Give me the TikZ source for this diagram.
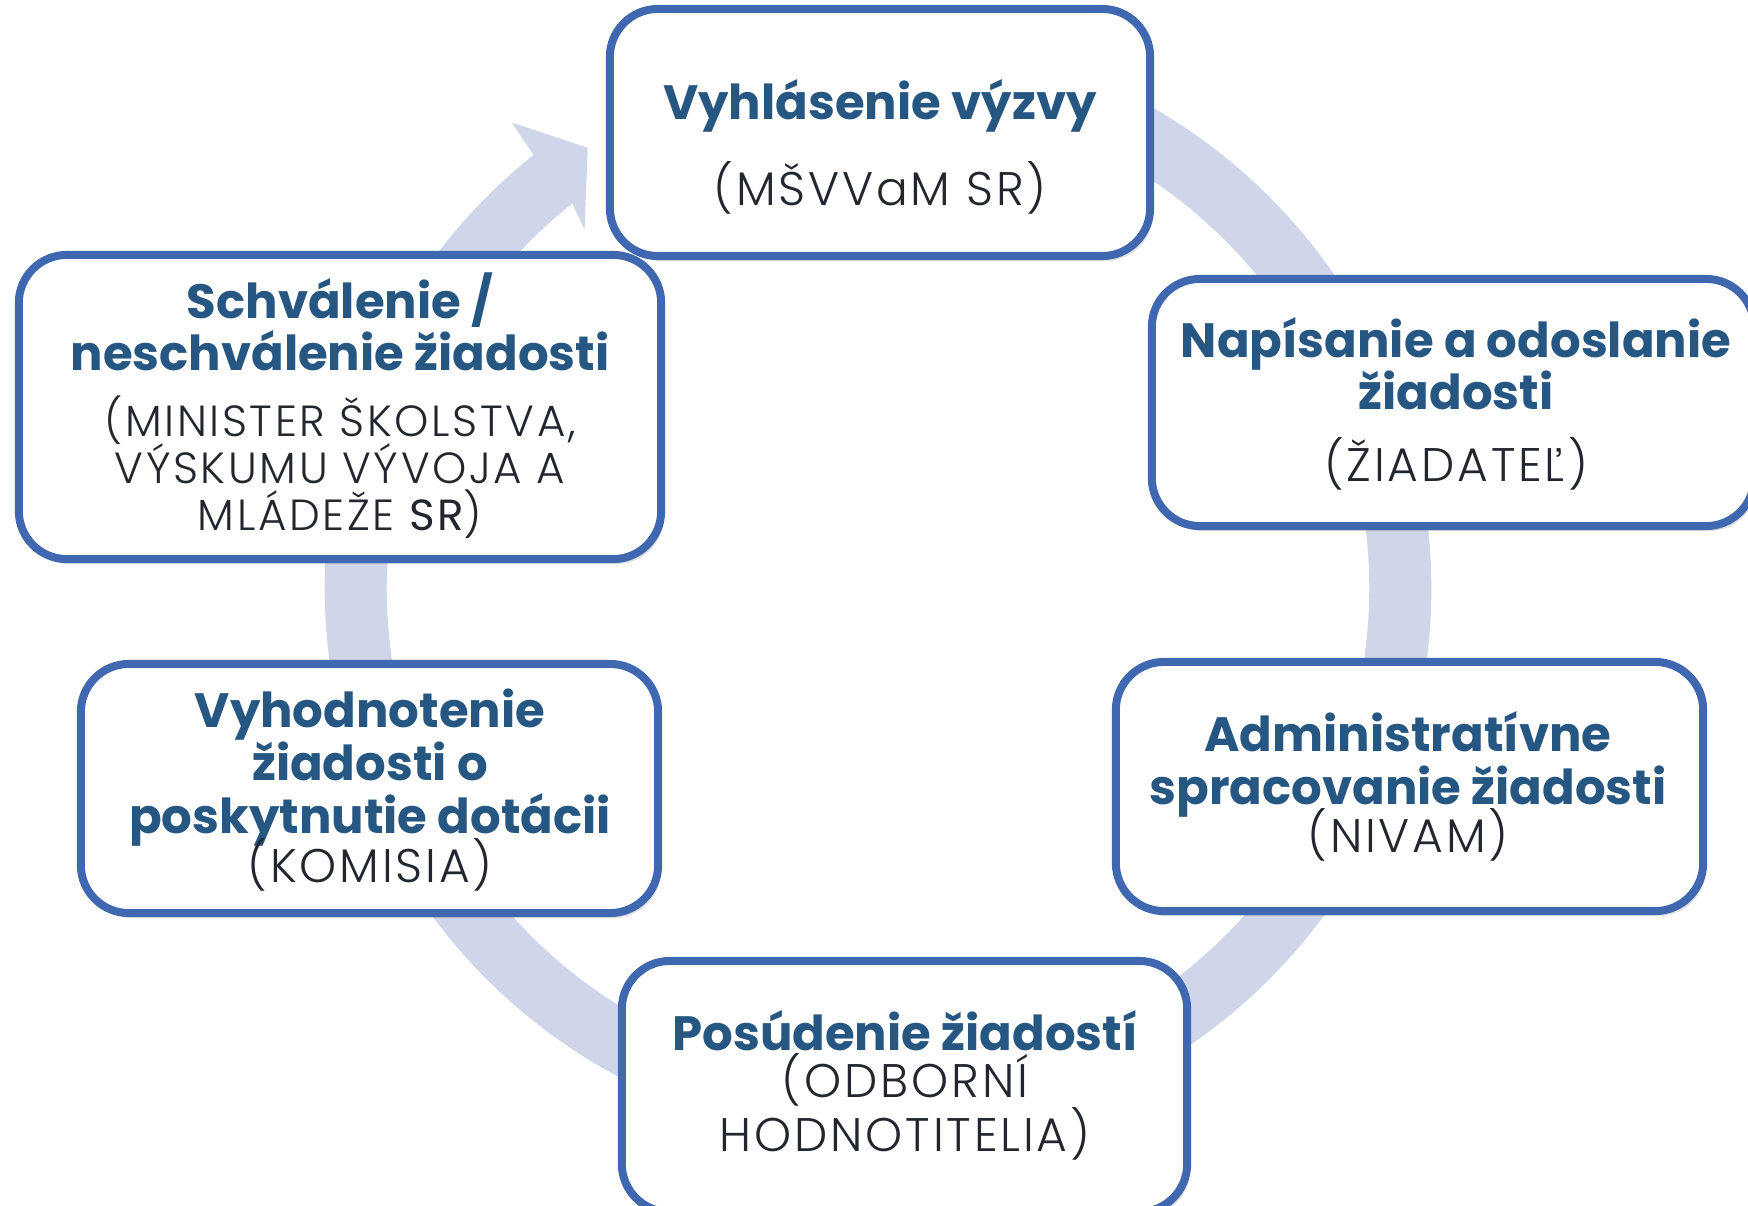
\documentclass[tikz,border=0pt]{standalone}
\usepackage{fontspec}
\setmainfont{Poppins}
\newfontfamily\lightfont{Poppins Light}[LetterSpace=6]
\newfontfamily\regfont{Poppins}[LetterSpace=6]
\usetikzlibrary{shadows}
\definecolor{ringc}{RGB}{207,214,234}
\definecolor{boxc}{RGB}{63,104,177}
\definecolor{ttlc}{RGB}{38,87,130}
\definecolor{txtc}{RGB}{35,38,46}
\tikzset{
 box/.style={draw=boxc, line width=0.08cm, fill=white, rounded corners=0.48cm,
   drop shadow={shadow xshift=0.03cm, shadow yshift=-0.05cm, opacity=0.25}},
 ttl/.style={anchor=base, inner sep=0pt, text=ttlc, font=\fontsize{13.7}{14}\selectfont\bfseries},
 bdy/.style={anchor=base, inner sep=0pt, text=txtc, font=\fontsize{13.4}{14}\selectfont\lightfont},
 bdysmall/.style={bdy, font=\fontsize{12.4}{13}\selectfont\lightfont},
}
\begin{document}
\begin{tikzpicture}[x=0.01cm, y=-0.01cm]
\useasboundingbox (0,0) rectangle (1748,1206);
\clip (0,0) rectangle (1748,1206);
\coordinate (C) at (878,588);
\fill[ringc] ([shift={(95:5.53cm)}]C) arc[start angle=95, end angle=-231.5, radius=5.53cm]
  -- ([shift={(128.2:5.92cm)}]C) -- ([shift={(123.4:5.27cm)}]C) -- ([shift={(129.3:4.63cm)}]C)
  -- ([shift={(128.5:4.91cm)}]C) arc[start angle=-231.5, end angle=95, radius=4.91cm] -- cycle;

\node[box, minimum width=5.40cm, minimum height=2.47cm] (b1) at (880,132.5) {};
\node[box, minimum width=6.02cm, minimum height=2.47cm] (b2) at (1453,402.5) {};
\node[box, minimum width=5.87cm, minimum height=2.49cm] (b3) at (1409.5,786.5) {};
\node[box, minimum width=5.65cm, minimum height=2.51cm] (b4) at (904.5,1086.5) {};
\node[box, minimum width=5.77cm, minimum height=2.49cm] (b5) at (369.5,788.5) {};
\node[box, minimum width=6.42cm, minimum height=3.04cm] (b6) at (340,407) {};

\node[ttl] (t1a) at (880,119) {Vyhlásenie výzvy};
\node[bdy] (t1b) at (880,205) {(MŠVVaM SR)};

\node[ttl] (t2a) at (1456,357) {Napísanie a odoslanie};
\node[ttl] (t2b) at (1456,409) {žiadosti};
\node[bdy] (t2c) at (1456,481) {(ŽIADATEĽ)};

\node[ttl] (t3a) at (1408,751) {Administratívne};
\node[ttl] (t3b) at (1408,804) {spracovanie žiadosti};
\node[bdy] (t3c) at (1408,852) {(NIVAM)};

\node[ttl] (t4a) at (905,1050) {Posúdenie žiadostí};
\node[bdy] (t4b) at (905,1097) {(ODBORNÍ};
\node[bdy] (t4c) at (905,1151) {HODNOTITELIA)};

\node[ttl] (t5a) at (370,727) {Vyhodnotenie};
\node[ttl] (t5b) at (370,780) {žiadosti o};
\node[ttl] (t5c) at (370,833) {poskytnutie dotácii};
\node[bdy] (t5d) at (370,882) {(KOMISIA)};

\node[ttl] (t6a) at (340,318) {Schválenie /};
\node[ttl] (t6b) at (340,370) {neschválenie žiadosti};
\node[bdysmall] (t6c) at (340,436) {(MINISTER ŠKOLSTVA,};
\node[bdysmall] (t6d) at (340,483) {VÝSKUMU VÝVOJA A};
\node[bdysmall] (t6e) at (340,530) {MLÁDEŽE {\regfont SR})};
\end{tikzpicture}
\end{document}
